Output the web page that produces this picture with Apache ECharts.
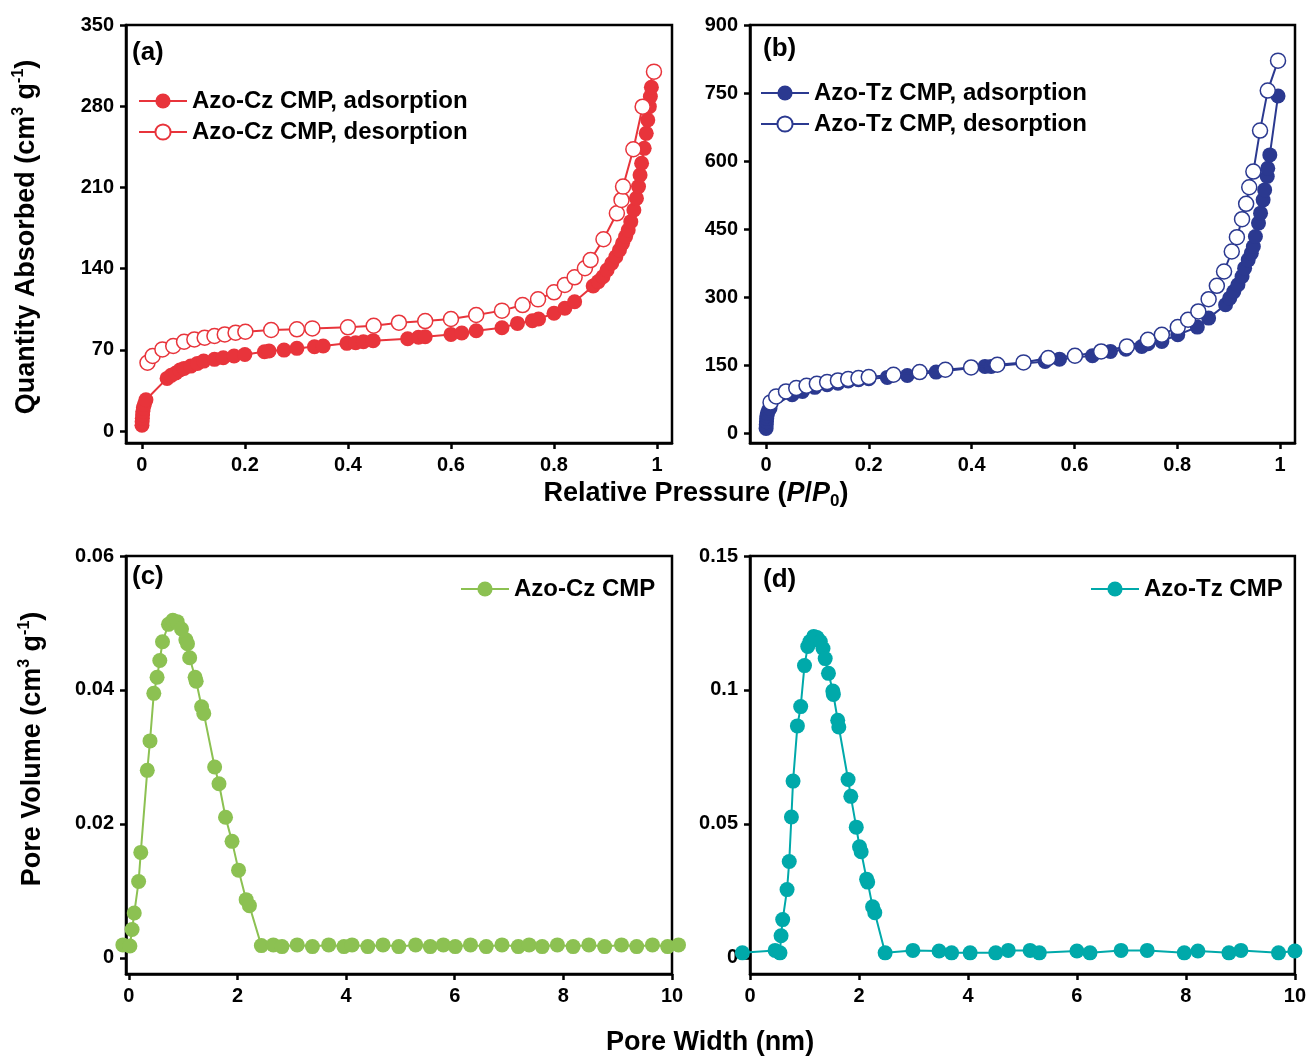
<!DOCTYPE html>
<html>
<head>
<meta charset="utf-8">
<script src="https://cdn.jsdelivr.net/npm/echarts@6/dist/echarts.min.js"></script>
<style>
html,body{margin:0;padding:0;background:#fff;}
#chart{width:1309px;height:1057px;}
</style>
</head>
<body>
<div id="chart"></div>
<script>
// ---- Data ----
const czAdsP = [0.0003,0.0006,0.001,0.0015,0.002,0.003,0.005,0.008,0.049,0.057,0.066,0.074,0.082,0.095,0.108,0.12,0.141,0.158,0.179,0.2,0.238,0.247,0.276,0.301,0.335,0.352,0.398,0.415,0.43,0.449,0.516,0.537,0.55,0.6,0.621,0.649,0.699,0.729,0.758,0.77,0.8,0.821,0.84,0.876,0.886,0.895,0.903,0.912,0.92,0.927,0.933,0.939,0.944,0.949,0.955,0.96,0.964,0.967,0.97,0.975,0.979,0.982,0.985,0.987,0.989];
const czAdsQ = [5,8,11,14,17,20,23,27,45.4,48,50,52.6,54,56,58.3,60.3,61.8,63.2,64.7,66,68.4,69,69.8,71.3,72.7,73.3,75.6,76.2,77,77.9,79.6,80.8,81.3,83.3,84.5,86.5,89.1,92.8,95.1,96.6,101.5,105.8,111.5,125,128.8,133,138.8,144.6,150.3,156,161.8,167.6,173.3,180.5,190.5,200.6,210.7,220.7,230.8,243.7,256.6,268.1,279.6,288.3,296.3];
const czDesP = [0.011,0.021,0.04,0.061,0.082,0.102,0.122,0.141,0.161,0.182,0.201,0.251,0.301,0.331,0.4,0.45,0.499,0.55,0.6,0.649,0.699,0.739,0.769,0.8,0.821,0.84,0.86,0.871,0.896,0.922,0.931,0.934,0.954,0.972,0.994];
const czDesQ = [58.9,64.7,70.4,73.3,77,79,80.5,81.9,83.3,84.8,85.6,87.1,87.7,88.5,89.4,90.8,93.4,94.8,96.6,100,103.8,108.6,113.5,119.6,125.9,132.5,140.3,147.4,165.3,187.7,199.2,210.7,242.9,279.6,309.8];

const tzAdsP = [0.0003,0.0006,0.001,0.0015,0.002,0.003,0.005,0.008,0.051,0.071,0.095,0.119,0.14,0.16,0.18,0.2,0.236,0.275,0.331,0.426,0.438,0.543,0.571,0.635,0.67,0.7,0.731,0.743,0.77,0.801,0.839,0.861,0.894,0.902,0.91,0.918,0.926,0.931,0.938,0.944,0.948,0.952,0.958,0.962,0.967,0.97,0.975,0.976,0.98,0.996];
const tzAdsQ = [10,18,25,32,38,44,50,55,84.5,91.8,100.7,106.5,110,115,117.5,119.8,122.7,127,134.4,147,147,158,163,170.5,180,185,191,197,202,216.7,233.6,253.5,282.9,297.5,312,327,345.3,363.7,382,396.7,411.4,433.5,463,485,514.3,536.3,565.7,584,613.5,743.5];
const tzDesP = [0.009,0.02,0.039,0.059,0.079,0.099,0.119,0.14,0.16,0.18,0.2,0.248,0.299,0.349,0.399,0.45,0.501,0.549,0.601,0.652,0.702,0.743,0.77,0.801,0.821,0.841,0.861,0.877,0.891,0.906,0.916,0.926,0.934,0.94,0.948,0.961,0.976,0.996];
const tzDesQ = [67.6,80.8,91.8,99.2,104.3,108.7,112.4,116,119,121.2,123.4,128.6,134.4,139.6,144.7,150.6,155.8,165.3,170.5,180,191,205.7,216.7,233.6,249.8,268.2,295.3,324.7,356.3,400.4,432,471.7,505.5,542.2,576.7,667.1,755.3,821.4];

const czPoreW = [-0.11,0.02,0.06,0.10,0.18,0.22,0.34,0.39,0.46,0.52,0.57,0.62,0.73,0.81,0.89,0.97,1.05,1.08,1.12,1.22,1.24,1.34,1.38,1.58,1.66,1.78,1.90,2.02,2.16,2.22,2.44,2.66,2.82,3.10,3.38,3.68,3.96,4.11,4.40,4.68,4.97,5.28,5.55,5.79,6.01,6.29,6.58,6.87,7.17,7.37,7.61,7.89,8.18,8.47,8.76,9.07,9.35,9.64,9.92,10.12];
const czPoreV = [0.00194,0.00179,0.00424,0.0067,0.0114,0.01575,0.0280,0.0324,0.0395,0.0419,0.0444,0.0472,0.0498,0.0504,0.0502,0.0491,0.0475,0.0469,0.0448,0.0419,0.0413,0.0375,0.0365,0.0285,0.0260,0.0210,0.0174,0.0131,0.0087,0.0078,0.00184,0.00194,0.00169,0.00194,0.00169,0.00194,0.00169,0.00194,0.00169,0.00194,0.00169,0.00194,0.00169,0.00194,0.00169,0.00194,0.00169,0.00194,0.00169,0.00194,0.00169,0.00194,0.00169,0.00194,0.00169,0.00194,0.00169,0.00194,0.00169,0.00194];
const tzPoreW = [-0.14,0.46,0.55,0.57,0.60,0.68,0.72,0.76,0.79,0.87,0.93,1.00,1.06,1.10,1.17,1.23,1.29,1.34,1.38,1.44,1.52,1.53,1.61,1.63,1.80,1.85,1.95,2.01,2.04,2.14,2.16,2.25,2.29,2.48,2.99,3.47,3.70,4.04,4.51,4.74,5.14,5.31,6.00,6.24,6.81,7.29,7.97,8.22,8.79,9.01,9.70,10.0];
const tzPoreV = [0.0019,0.0028,0.0019,0.0083,0.0143,0.0255,0.0360,0.0526,0.0660,0.0866,0.0938,0.1091,0.1162,0.1181,0.1200,0.1196,0.1181,0.1155,0.1117,0.1062,0.0996,0.0983,0.0887,0.0862,0.0666,0.0603,0.0488,0.0415,0.0396,0.0294,0.0283,0.0191,0.0169,0.0019,0.0028,0.0026,0.0019,0.0019,0.0019,0.0028,0.0028,0.0019,0.0026,0.0019,0.0028,0.0028,0.0019,0.0026,0.0019,0.0028,0.0019,0.0026];

// tick labels
const pTicks = [0, 0.2, 0.4, 0.6, 0.8, 1];
const czQTicks = [0, 70, 140, 210, 280, 350];
const tzQTicks = [0, 150, 300, 450, 600, 750, 900];
const wTicks = [0, 2, 4, 6, 8, 10];
const czVTicks = [0, 0.02, 0.04, 0.06];
const tzVTicks = [0, 0.05, 0.1, 0.15];

// ---- Styles ----
const FONT = 'Arial, "Liberation Sans", Helvetica, sans-serif';
const RED = '#E8343B', BLUE = '#2B3990', GREEN = '#8CC152', TEAL = '#00A9AA';

const zip = (a, b) => a.map((v, i) => [v, b[i]]);

function xAx(idx, min, max, ticks) {
  return {
    type: 'value', gridIndex: idx, min: min, max: max,
    splitLine: { show: false },
    axisLine: { show: true, onZero: false, lineStyle: { color: '#000', width: 2.5 } },
    axisTick: { show: true, length: 6, customValues: ticks, lineStyle: { color: '#000', width: 2.5 } },
    axisLabel: { customValues: ticks, color: '#000', fontWeight: 'bold', fontSize: 20, fontFamily: FONT, margin: 12,
      formatter: v => String(v) }
  };
}
function yAx(idx, min, max, ticks) {
  return {
    type: 'value', gridIndex: idx, min: min, max: max,
    splitLine: { show: false },
    axisLine: { show: true, onZero: false, lineStyle: { color: '#000', width: 2.5 } },
    axisTick: { show: true, length: 6, customValues: ticks, lineStyle: { color: '#000', width: 2.5 } },
    axisLabel: { customValues: ticks, color: '#000', fontWeight: 'bold', fontSize: 20, fontFamily: FONT, margin: 12,
      formatter: v => String(v) }
  };
}
function ser(name, idx, data, color, open, z) {
  return {
    type: 'line', name: name, xAxisIndex: idx, yAxisIndex: idx, data: data,
    symbol: 'circle', symbolSize: 15, showSymbol: true, showAllSymbol: true, clip: false,
    lineStyle: { color: color, width: 2 },
    itemStyle: open ? { color: '#fff', borderColor: color, borderWidth: 1.5 } : { color: color, borderWidth: 0 },
    emphasis: { disabled: true }, z: z || 2
  };
}
function leg(names, left, top) {
  return {
    data: names, left: left, top: top, orient: 'vertical', padding: 0,
    itemWidth: 48, itemHeight: 19, itemGap: 3,
    textStyle: { color: '#000', fontWeight: 'bold', fontSize: 24, fontFamily: FONT, lineHeight: 28 },
    selectedMode: false
  };
}
function label(txt, x, y) {
  return { type: 'text', x: x, y: y, style: { text: txt, fill: '#000', font: 'bold 26px ' + FONT, verticalAlign: 'middle' } };
}

const richMain = { fontSize: 27, fontWeight: 'bold', fontFamily: FONT, lineHeight: 32, fill: '#000' };
const richSup = { fontSize: 16, fontWeight: 'bold', fontFamily: FONT, lineHeight: 16, verticalAlign: 'top', fill: '#000' };
const richSub = { fontSize: 17, fontWeight: 'bold', fontFamily: FONT, lineHeight: 17, verticalAlign: 'bottom', fill: '#000' };
const richIt = { fontSize: 27, fontWeight: 'bold', fontStyle: 'italic', fontFamily: FONT, lineHeight: 32, fill: '#000' };

const chart = echarts.init(document.getElementById('chart'), null, { renderer: 'canvas' });
chart.setOption({
  animation: false,
  backgroundColor: '#fff',
  grid: [
    { left: 126, top: 25, width: 546, height: 418, show: true, borderColor: '#000', borderWidth: 2.5 },
    { left: 750, top: 25, width: 545, height: 418, show: true, borderColor: '#000', borderWidth: 2.5 },
    { left: 126, top: 556, width: 546, height: 418, show: true, borderColor: '#000', borderWidth: 2.5 },
    { left: 750, top: 556, width: 545, height: 418, show: true, borderColor: '#000', borderWidth: 2.5 }
  ],
  xAxis: [
    xAx(0, -0.0307, 1.029, pTicks),
    xAx(1, -0.031, 1.029, pTicks),
    xAx(2, -0.052, 10, wTicks),
    xAx(3, 0, 10, wTicks)
  ],
  yAxis: [
    yAx(0, -10.3, 350, czQTicks),
    yAx(1, -22, 900, tzQTicks),
    yAx(2, -0.0024, 0.06, czVTicks),
    yAx(3, -0.006, 0.15, tzVTicks)
  ],
  legend: [
    leg(['Azo-Cz CMP, adsorption', 'Azo-Cz CMP, desorption'], 138, 87),
    leg(['Azo-Tz CMP, adsorption', 'Azo-Tz CMP, desorption'], 760, 79),
    leg(['Azo-Cz CMP'], 460, 575),
    leg(['Azo-Tz CMP'], 1090, 575)
  ],
  series: [
    ser('Azo-Cz CMP, adsorption', 0, zip(czAdsP, czAdsQ), RED, false, 2),
    ser('Azo-Cz CMP, desorption', 0, zip(czDesP, czDesQ), RED, true, 3),
    ser('Azo-Tz CMP, adsorption', 1, zip(tzAdsP, tzAdsQ), BLUE, false, 2),
    ser('Azo-Tz CMP, desorption', 1, zip(tzDesP, tzDesQ), BLUE, true, 3),
    ser('Azo-Cz CMP', 2, zip(czPoreW, czPoreV), GREEN, false, 2),
    ser('Azo-Tz CMP', 3, zip(tzPoreW, tzPoreV), TEAL, false, 2)
  ],
  graphic: [
    label('(a)', 132, 53),
    label('(b)', 763, 49),
    label('(c)', 132, 577),
    label('(d)', 763, 580),
    { type: 'text', x: 27, y: 237, rotation: Math.PI / 2,
      style: { text: '{m|Quantity Absorbed (cm}{s|3}{m| g}{s|-1}{m|)}', align: 'center', verticalAlign: 'middle',
        rich: { m: richMain, s: richSup } } },
    { type: 'text', x: 33, y: 749, rotation: Math.PI / 2,
      style: { text: '{m|Pore Volume (cm}{s|3}{m| g}{s|-1}{m|)}', align: 'center', verticalAlign: 'middle',
        rich: { m: richMain, s: richSup } } },
    { type: 'text', x: 696, y: 494,
      style: { text: '{m|Relative Pressure (}{i|P}{m|/}{i|P}{b|0}{m|)}', align: 'center', verticalAlign: 'middle',
        rich: { m: richMain, i: richIt, b: richSub } } },
    { type: 'text', x: 710, y: 1043,
      style: { text: '{m|Pore Width (nm)}', align: 'center', verticalAlign: 'middle', rich: { m: richMain } } }
  ]
});
</script>
</body>
</html>
